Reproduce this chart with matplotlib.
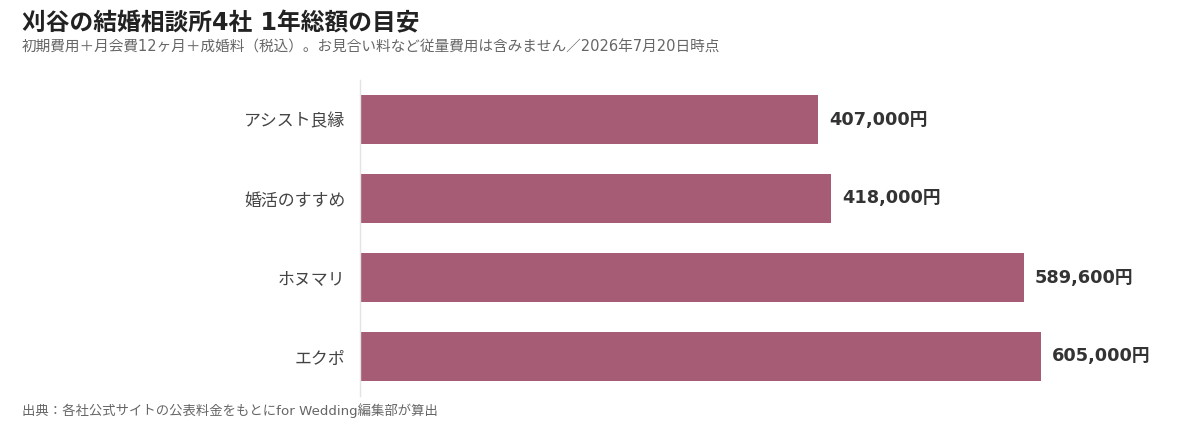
import matplotlib
matplotlib.use("Agg")
import matplotlib.pyplot as plt

plt.rcParams['font.family'] = ['DejaVu Sans', 'Noto Sans CJK JP']

categories = ["アシスト良縁", "婚活のすすめ", "ホヌマリ", "エクポ"]
values = [407000, 418000, 589600, 605000]
value_labels = ["407,000円", "418,000円", "589,600円", "605,000円"]

title = "刈谷の結婚相談所4社 1年総額の目安"
subtitle = "初期費用＋月会費12ヶ月＋成婚料（税込）。お見合い料など従量費用は含みません／2026年7月20日時点"
footer = "出典：各社公式サイトの公表料金をもとにfor Wedding編集部が算出"

W, H = 1200, 426
fig = plt.figure(figsize=(W / 100, H / 100), dpi=100)
ax = fig.add_axes([360 / W, 1 - 396 / H, 820 / W, 316 / H])

bar_color = "#a65c74"
ypos = list(range(len(categories)))
ax.barh(ypos, values, height=0.62, color=bar_color)
ax.set_ylim(3.5, -0.5)
ax.set_xlim(0, 728500)

for y, v, lab in zip(ypos, values, value_labels):
    ax.text(v + 10000, y, lab, va="center", ha="left", fontsize=12.8,
            fontweight="bold", color="#333333")

ax.set_yticks(ypos)
ax.set_yticklabels(categories, fontsize=12.2, color="#444444")
ax.tick_params(axis="y", length=0, pad=10.5)
ax.set_xticks([])
for s in ["top", "right", "bottom"]:
    ax.spines[s].set_visible(False)
ax.spines["left"].set_color("#e3e3e3")
ax.spines["left"].set_linewidth(1)

fig.text(22 / W, 1 - 23 / H, title, fontsize=17.1, fontweight="bold",
         color="#222222", va="center", ha="left")
fig.text(22 / W, 1 - 47 / H, subtitle, fontsize=10.55, color="#666666",
         va="center", ha="left")
fig.text(22 / W, 1 - 411 / H, footer, fontsize=9.6, color="#666666",
         va="center", ha="left")

fig.savefig("out.png", dpi=100, facecolor="white")
